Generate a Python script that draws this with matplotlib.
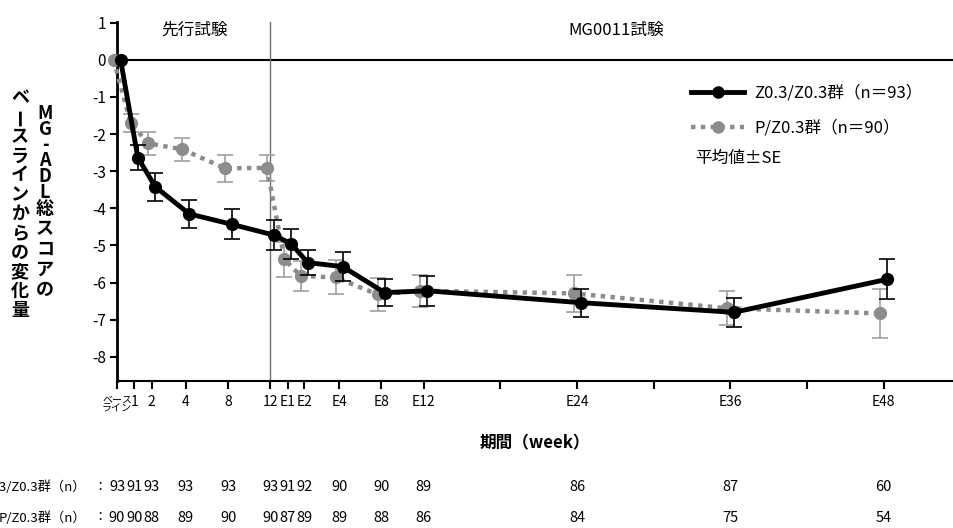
import matplotlib
matplotlib.use("Agg")
import matplotlib.pyplot as plt
import matplotlib.transforms as mtransforms
from matplotlib.lines import Line2D
import numpy as np

plt.rcParams["font.family"] = ["Noto Sans CJK JP", "DejaVu Sans"]

# Time points (axis position units)
time_labels = ["ベース\nライン", "1", "2", "4", "8", "12", "E1", "E2", "E4", "E8", "E12", "E24", "E36", "E48"]
x_pos = [0, 1.35, 2.72, 5.38, 8.71, 12, 13.37, 14.64, 17.38, 20.67, 24, 36, 48, 60]
extra_ticks = [30, 42, 54]

# Z0.3/Z0.3 group
z_mean = [0, -2.63, -3.42, -4.15, -4.43, -4.72, -4.96, -5.46, -5.57, -6.27, -6.22, -6.54, -6.80, -5.91]
z_se = [0, 0.33, 0.37, 0.37, 0.40, 0.40, 0.41, 0.33, 0.39, 0.36, 0.41, 0.38, 0.39, 0.54]
z_n = [93, 91, 93, 93, 93, 93, 91, 92, 90, 90, 89, 86, 87, 60]

# P/Z0.3 group
p_mean = [0, -1.71, -2.25, -2.41, -2.92, -2.91, -5.37, -5.82, -5.86, -6.32, -6.22, -6.29, -6.69, -6.83]
p_se = [0, 0.24, 0.30, 0.31, 0.36, 0.36, 0.47, 0.41, 0.46, 0.44, 0.43, 0.50, 0.46, 0.67]
p_n = [90, 90, 88, 89, 90, 90, 87, 89, 89, 88, 86, 84, 75, 54]

z_label = "Z0.3/Z0.3群（n＝93）"
p_label = "P/Z0.3群（n＝90）"
W, H = 954, 528


def fx(px):
    return px / W


def fy(py):
    return 1 - py / H


fig = plt.figure(figsize=(W / 100, H / 100), dpi=100)
ax = fig.add_axes([fx(117), fy(381), fx(954) - fx(117), fy(22) - fy(381)])

x = np.array(x_pos)
gray = "#8c8c8c"

# zero line and phase divider
ax.axhline(0, color="black", lw=1.5, zorder=1)
ax.axvline(12, color="#6e6e6e", lw=1.0, zorder=1)

# P/Z0.3 group (gray dotted)
ax.errorbar(x[1:] - 0.27, p_mean[1:], yerr=p_se[1:], fmt="none", ecolor="#a0a0a0",
            elinewidth=1.2, capsize=6, capthick=1.2, zorder=2, clip_on=False)
ax.plot(x - 0.27, p_mean, linestyle=(0, (1, 1.2)), color=gray, lw=3.2,
        marker="o", markersize=8.5, markerfacecolor=gray, markeredgecolor=gray,
        zorder=3, clip_on=False)

# Z0.3/Z0.3 group (black solid)
ax.errorbar(x[1:] + 0.28, z_mean[1:], yerr=z_se[1:], fmt="none", ecolor="black",
            elinewidth=1.2, capsize=6, capthick=1.2, zorder=4, clip_on=False)
ax.plot(x + 0.28, z_mean, "-", color="black", lw=3.5, marker="o", markersize=8.5,
        zorder=5, clip_on=False)

ax.set_xlim(0, 65.5)
ax.set_ylim(-8.65, 1.02)

ticks = list(x_pos) + extra_ticks
tick_text = list(time_labels) + [""] * len(extra_ticks)
ax.set_xticks(ticks)
ax.set_xticklabels(tick_text, fontsize=10)
ax.set_yticks(range(-8, 2))
ax.set_yticklabels([str(v) for v in range(-8, 2)], fontsize=11)

lab0 = ax.get_xticklabels()[0]
lab0.set_fontsize(7.2)
lab0.set_linespacing(0.85)
lab0.set_transform(lab0.get_transform() + mtransforms.ScaledTranslation(-0.12, 0, fig.dpi_scale_trans))

ax.tick_params(axis="x", direction="out", length=6, width=1.5, pad=4)
ax.tick_params(axis="y", direction="out", length=5, width=1.5, pad=3)
for s in ["top", "right"]:
    ax.spines[s].set_visible(False)
ax.spines["left"].set_linewidth(2)
ax.spines["bottom"].set_linewidth(1.5)

# phase titles
ax.text(6.1, 0.8, "先行試験", ha="center", va="center", fontsize=12)
ax.text(39.1, 0.8, "MG0011試験", ha="center", va="center", fontsize=12)

# legend
handles = [
    Line2D([], [], color="black", lw=3.5, marker="o", markersize=8),
    Line2D([], [], color=gray, lw=3.2, linestyle=(0, (1, 1.2)), marker="o", markersize=8),
]
ax.legend(handles, [z_label, p_label], loc="upper left", bbox_to_anchor=(fx(691), fy(85)),
          bbox_transform=fig.transFigure, frameon=False, fontsize=12, handlelength=3.2,
          handletextpad=0.6, labelspacing=1.05, borderpad=0, borderaxespad=0)
fig.text(fx(695), fy(158), "平均値±SE", ha="left", va="center", fontsize=12)

# x label
fig.text(fx(535), fy(443), "期間（week）", ha="center", va="center", fontsize=12, fontweight="bold")

# vertical y-label (two columns)
left_col = "ベースラインからの変化量"
for i, ch in enumerate(left_col):
    rot = 90 if ch == "ー" else 0
    fig.text(fx(20), fy(98 + i * 19.3), ch, ha="center", va="center", fontsize=13,
             fontweight="bold", rotation=rot)
fig.text(fx(45), fy(104), "\n".join("MG-ADL"), ha="center", va="top", fontsize=13,
         fontweight="bold", linespacing=0.78, multialignment="center")
fig.text(fx(45), fy(199), "\n".join("総スコアの"), ha="center", va="top", fontsize=13,
         fontweight="bold", linespacing=1.08, multialignment="center")

# number at risk rows
row_trans = mtransforms.blended_transform_factory(ax.transData, fig.transFigure)
for row_y, name, counts in [(487, "Z0.3/Z0.3群（n）", z_n), (518, "P/Z0.3群（n）", p_n)]:
    fig.text(fx(86), fy(row_y), name, ha="right", va="center", fontsize=9.5)
    fig.text(fx(100), fy(row_y), "：", ha="center", va="center", fontsize=9.5)
    for xp, c in zip(x_pos, counts):
        ax.text(xp, fy(row_y), str(c), transform=row_trans, ha="center", va="center",
                fontsize=10.5, clip_on=False)

fig.savefig("out.png", dpi=100)
